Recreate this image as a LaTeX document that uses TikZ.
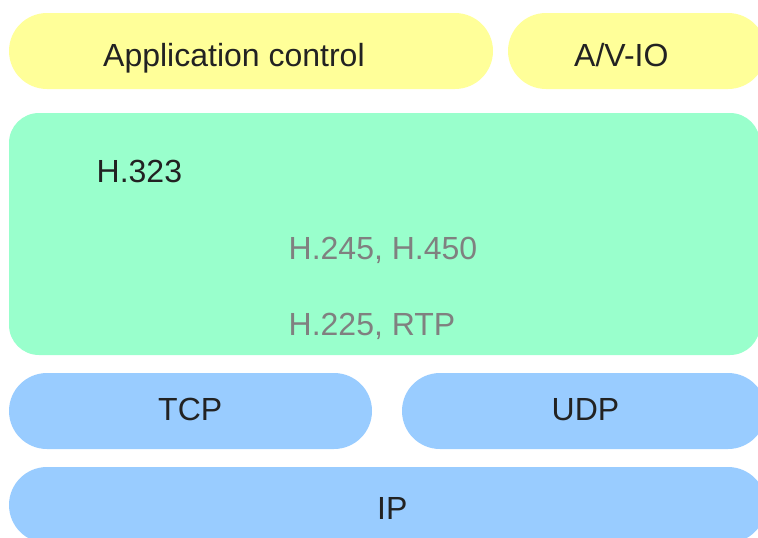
\documentclass[tikz,border=0pt]{standalone}
\usepackage{fontspec}
\setmainfont{Liberation Sans}
\definecolor{appyellow}{HTML}{FFFF99}
\definecolor{hgreen}{HTML}{99FFCC}
\definecolor{netblue}{HTML}{99CCFF}
\definecolor{subgray}{HTML}{808080}
\definecolor{lblblack}{HTML}{222222}
\tikzset{
  layer/.style={rounded corners=38pt},
  lbl/.style={anchor=base west,inner sep=0pt,text=lblblack,font=\fontsize{32}{38}\selectfont},
  sublbl/.style={lbl,text=subgray}
}
\begin{document}
\begin{tikzpicture}[x=1pt,y=-1pt]
\useasboundingbox (0,0) rectangle (758,538);
\clip (0,0) rectangle (758,538);
% top row
\fill[appyellow,layer] (9,13) rectangle (493,89);
\fill[appyellow,layer] (508,13) rectangle (766,89);
% H.323 block
\fill[hgreen,rounded corners=30pt] (9,113) rectangle (760,355);
% transport row
\fill[netblue,layer] (9,373) rectangle (372,449);
\fill[netblue,layer] (402,373) rectangle (766,449);
% network row
\fill[netblue,layer] (9,467) rectangle (766,543);

\node[lbl] (app) at (103,66.5) {Application control};
\node[lbl] (avio) at (574,66.5) {A/V-IO};
\node[lbl] (h323) at (96.5,182) {H.323};
\node[sublbl] (h245) at (288.5,259) {H.245, H.450};
\node[sublbl] (h225) at (288.5,335) {H.225, RTP};
\node[lbl] (tcp) at (158,420) {TCP};
\node[lbl] (udp) at (551.5,420) {UDP};
\node[lbl] (ip) at (377,519) {IP};
\end{tikzpicture}
\end{document}
